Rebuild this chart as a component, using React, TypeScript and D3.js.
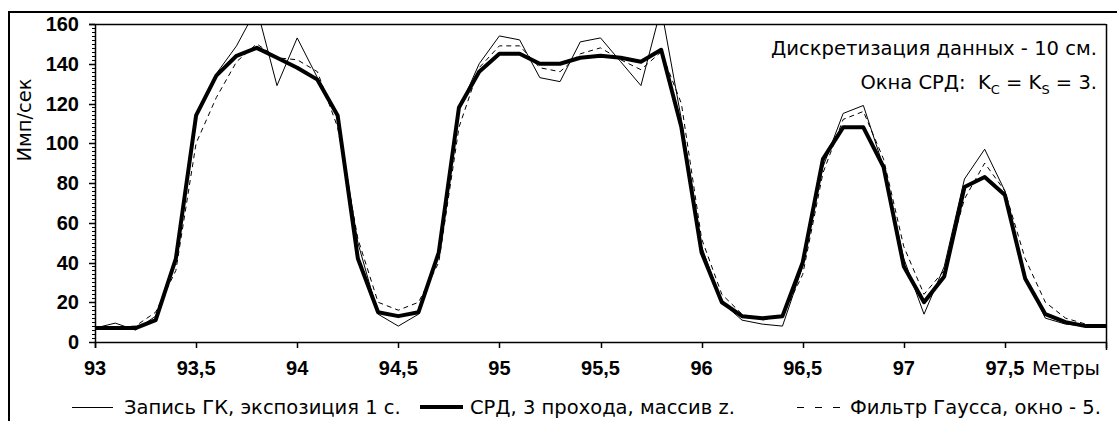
import React from "react";
import * as d3 from "d3";

const depths = [
  93.0, 93.1, 93.2, 93.3, 93.4, 93.5, 93.6, 93.7, 93.8, 93.9,
  94.0, 94.1, 94.2, 94.3, 94.4, 94.5, 94.6, 94.7, 94.8, 94.9,
  95.0, 95.1, 95.2, 95.3, 95.4, 95.5, 95.6, 95.7, 95.8, 95.9,
  96.0, 96.1, 96.2, 96.3, 96.4, 96.5, 96.6, 96.7, 96.8, 96.9,
  97.0, 97.1, 97.2, 97.3, 97.4, 97.5, 97.6, 97.7, 97.8, 97.9, 98.0,
];

const rawGK = [
  7, 9.5, 6, 13, 42, 113, 135, 149, 168, 129,
  153, 133, 113, 50, 14, 8, 14, 45, 117, 140,
  154, 152, 133, 131, 151, 153, 141, 129, 168, 112,
  48, 20, 11, 9, 8, 38, 88, 115, 119, 88,
  42, 14, 38, 82, 97, 76, 33, 12, 9, 8, 8,
];

const srd = [
  7, 7, 7, 11, 42, 114, 134, 144, 148, 143,
  138, 132, 114, 42, 15, 13, 15, 45, 118, 136,
  145, 145, 140, 140, 143, 144, 143, 141, 147, 108,
  45, 20, 13, 12, 13, 40, 92, 108, 108, 88,
  38, 20, 33, 78, 83, 74, 32, 14, 10, 8, 8,
];

const gauss = [
  7, 7.5, 8, 15, 36, 100, 123, 141, 150, 143,
  142, 136, 108, 52, 20, 16, 20, 40, 108, 138,
  149, 149, 138, 136, 145, 148, 142, 137, 146, 120,
  52, 24, 14, 11, 13, 34, 85, 112, 116, 92,
  48, 24, 36, 72, 90, 76, 42, 20, 12, 9, 8,
];

const xTicks = [93, 93.5, 94, 94.5, 95, 95.5, 96, 96.5, 97, 97.5, 98];
const xTickLabels = ["93", "93,5", "94", "94,5", "95", "95,5", "96", "96,5", "97", "97,5", ""];
const yTicks = [0, 20, 40, 60, 80, 100, 120, 140, 160];

const legendLabels = [
  "Запись ГК, экспозиция 1 с.",
  "СРД, 3 прохода, массив z.",
  "Фильтр Гаусса, окно - 5.",
];

const W = 1117;
const H = 421;
const X0 = 95, X1 = 1106, Y0 = 342, Y1 = 24;

export default function App() {
  const x = d3.scaleLinear().domain([93, 98]).range([X0, X1]);
  const y = d3.scaleLinear().domain([0, 160]).range([Y0, Y1]);
  const line = (vals: number[]) =>
    d3.line<number>().x((_, i) => x(depths[i])).y((v) => y(v))(vals) || "";
  const minor = d3.range(0, 161, 2);
  const regFont = "'DejaVu Sans', sans-serif";
  const boldFont = "'Liberation Sans', Arial, sans-serif";
  const fs = 19.5;

  return (
    <svg width={W} height={H} style={{ position: "absolute", left: 0, top: 0, background: "#fff" }}>
      <rect x={0} y={0} width={W} height={H} fill="#fff" />
      <rect x={9} y={12} width={1300} height={600} fill="none" stroke="#000" strokeWidth={2} />
      <defs>
        <clipPath id="plotclip">
          <rect x={X0} y={Y1} width={X1 - X0} height={Y0 - Y1} />
        </clipPath>
      </defs>

      {/* frame */}
      <line x1={X0 - 6} x2={X1} y1={Y1 + 0.5} y2={Y1 + 0.5} stroke="#000" strokeWidth={1.5} />
      <line x1={X1 + 0.5} x2={X1 + 0.5} y1={Y1} y2={Y0 + 8} stroke="#000" strokeWidth={1.5} />
      <line x1={X0 + 0.5} x2={X0 + 0.5} y1={Y1} y2={Y0 + 6} stroke="#000" strokeWidth={1.5} />
      <line x1={X0} x2={X1} y1={Y0 + 0.5} y2={Y0 + 0.5} stroke="#000" strokeWidth={1.5} />

      {minor.map((v) => (
        <line key={"m" + v} x1={X0 - 3} x2={X0} y1={Math.round(y(v)) + 0.5} y2={Math.round(y(v)) + 0.5} stroke="#000" strokeWidth={1} />
      ))}
      {yTicks.map((v) => (
        <g key={"y" + v}>
          <line x1={X0 - 6} x2={X0} y1={Math.round(y(v)) + 0.5} y2={Math.round(y(v)) + 0.5} stroke="#000" strokeWidth={1.5} />
          <text x={79} y={y(v) + 7} textAnchor="end" fontFamily={boldFont} fontWeight="bold" fontSize={20}>
            {v}
          </text>
        </g>
      ))}

      {xTicks.map((v, i) => (
        <g key={"x" + v}>
          <line x1={Math.round(x(v)) + 0.5} x2={Math.round(x(v)) + 0.5} y1={Y0} y2={Y0 + 6} stroke="#000" strokeWidth={1.5} />
          <text x={x(v)} y={375} textAnchor="middle" fontFamily={boldFont} fontWeight="bold" fontSize={20}>
            {xTickLabels[i]}
          </text>
        </g>
      ))}
      <text x={1100} y={375} textAnchor="end" fontFamily={regFont} fontSize={fs}>Метры</text>

      <text transform={`translate(31,${120}) rotate(-90)`} textAnchor="middle" fontFamily={regFont} fontSize={fs}>
        Имп/сек
      </text>

      <g clipPath="url(#plotclip)" fill="none" stroke="#000" strokeLinejoin="round">
        <path d={line(gauss)} strokeWidth={1} strokeDasharray="5,4" />
        <path d={line(rawGK)} strokeWidth={1} />
        <path d={line(srd)} strokeWidth={4} />
      </g>

      <text x={1097} y={55} textAnchor="end" fontFamily={regFont} fontSize={fs} textLength={326} lengthAdjust="spacingAndGlyphs">
        Дискретизация данных - 10 см.
      </text>
      <text x={1097} y={89} textAnchor="end" fontFamily={regFont} fontSize={fs}>
        {"Окна СРД:\u00A0\u00A0K"}<tspan fontSize={13} dy={5}>C</tspan><tspan dy={-5}>{" = K"}</tspan><tspan fontSize={13} dy={5}>S</tspan><tspan dy={-5}>{" = 3."}</tspan>
      </text>

      {/* legend */}
      <line x1={72} x2={113} y1={407.5} y2={407.5} stroke="#000" strokeWidth={1} />
      <text x={124} y={414} fontFamily={regFont} fontSize={fs}>{legendLabels[0]}</text>
      <line x1={420} x2={463} y1={407} y2={407} stroke="#000" strokeWidth={4} />
      <text x={470} y={414} fontFamily={regFont} fontSize={fs}>{legendLabels[1]}</text>
      <line x1={797} x2={840} y1={407.5} y2={407.5} stroke="#000" strokeWidth={1} strokeDasharray="7,11" />
      <text x={850} y={414} fontFamily={regFont} fontSize={fs}>{legendLabels[2]}</text>
    </svg>
  );
}
